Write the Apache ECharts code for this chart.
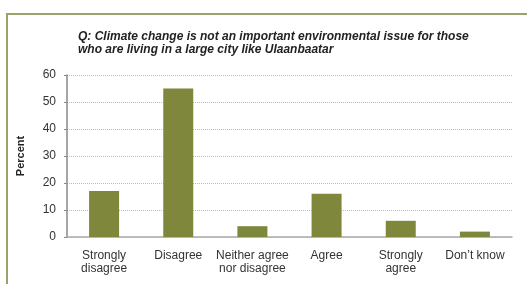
<!DOCTYPE html>
<html>
<head>
<meta charset="utf-8">
<script src="https://cdn.jsdelivr.net/npm/echarts@6/dist/echarts.min.js"></script>
<style>
  html, body { margin: 0; padding: 0; background: #fff; }
  #frame { position: absolute; left: 6px; top: 13px; right: -4px; bottom: -4px;
    border-top: 2px solid #97a36a; border-left: 2px solid #97a36a; }
  #chart { position: absolute; left: 0; top: 0; width: 527px; height: 284px; }
</style>
</head>
<body>
<div id="frame"></div>
<div id="chart"></div>
<script>
const categories = ['Strongly\ndisagree', 'Disagree', 'Neither agree\nnor disagree', 'Agree', 'Strongly\nagree', 'Don\u2019t know']
const percents = [17, 55, 4, 16, 6, 2]
const yTicks = { min: 0, max: 60, interval: 10 }
const titleText = 'Q: Climate change is not an important environmental issue for those\nwho are living in a large city like Ulaanbaatar'

const chart = echarts.init(document.getElementById('chart'), null, { renderer: 'canvas' })
chart.setOption({
  animation: false,
  title: {
    text: titleText,
    left: 73,
    top: 25,
    textStyle: {
      fontFamily: 'Liberation Sans, Arial',
      fontSize: 12,
      fontWeight: 'bold',
      fontStyle: 'italic',
      color: '#222',
      lineHeight: 13
    }
  },
  grid: {
    left: 67,
    right: 15,
    top: 75,
    bottom: 47
  },
  xAxis: {
    type: 'category',
    data: categories,
    axisLine: { lineStyle: { color: '#aaa', width: 1.5 } },
    axisTick: { show: false },
    axisLabel: {
      interval: 0,
      margin: 12,
      fontFamily: 'Liberation Sans, Arial',
      fontSize: 12,
      color: '#333',
      lineHeight: 13
    }
  },
  yAxis: {
    type: 'value',
    min: yTicks.min,
    max: yTicks.max,
    interval: yTicks.interval,
    name: 'Percent',
    nameLocation: 'middle',
    nameGap: 41,
    nameTextStyle: {
      fontFamily: 'Liberation Sans, Arial',
      fontSize: 11,
      fontWeight: 'bold',
      color: '#222'
    },
    axisLine: { show: true, lineStyle: { color: '#888', width: 1.5 } },
    axisTick: { show: true, length: 3, lineStyle: { color: '#888' } },
    axisLabel: {
      margin: 11,
      fontFamily: 'Liberation Sans, Arial',
      fontSize: 12,
      color: '#333'
    },
    splitLine: {
      lineStyle: { color: '#bcc48a', type: [1, 1], width: 1 }
    }
  },
  series: [
    {
      name: 'Percent',
      type: 'bar',
      data: percents,
      barWidth: 30,
      itemStyle: { color: '#7f873c' }
    }
  ]
})
</script>
</body>
</html>
